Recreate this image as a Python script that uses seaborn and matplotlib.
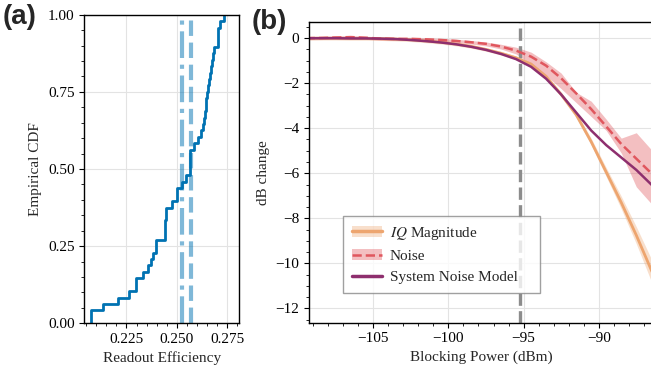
import matplotlib
matplotlib.use("Agg")
import matplotlib.pyplot as plt
from matplotlib.ticker import MultipleLocator
from matplotlib.patches import Patch
from matplotlib.lines import Line2D
import seaborn as sns
import pandas as pd

# (a) readout efficiency samples
efficiency = [
    0.2073, 0.2073, 0.2135, 0.2209, 0.2261, 0.2296, 0.2296, 0.2333, 0.2355,
    0.2371, 0.2383, 0.2395, 0.2395, 0.2440, 0.2440, 0.2440, 0.2448, 0.2448,
    0.2474, 0.2503, 0.2503, 0.2523, 0.2545, 0.2564, 0.2564, 0.2564, 0.2564,
    0.2586, 0.2607, 0.2619, 0.2630, 0.2635, 0.2639, 0.2642, 0.2646, 0.2650,
    0.2655, 0.2660, 0.2665, 0.2670, 0.2674, 0.2678, 0.2682, 0.2704, 0.2704,
    0.2704, 0.2713, 0.2732,
]
eff_mean = 0.2524
eff_median = 0.2571

# (b) blocking power sweep
blocking_power = [
    -109.5, -108.5, -107.5, -106.5, -105.5, -104.5, -103.5, -102.5, -101.5,
    -100.5, -99.5, -98.5, -97.5, -96.5, -95.5, -94.5, -93.5, -92.5, -91.5,
    -90.5, -89.5, -88.5, -87.5, -86.5, -85.5,
]
iq_mag = [
    0.0, 0.0, 0.0, -0.01, -0.01, -0.02, -0.04, -0.07, -0.12, -0.18, -0.26,
    -0.36, -0.5, -0.67, -0.87, -1.15, -1.7, -2.5, -3.4, -4.6, -5.95, -7.3,
    -8.75, -10.3, -11.9,
]
iq_spread = [
    0.08, 0.08, 0.08, 0.08, 0.08, 0.08, 0.08, 0.08, 0.08, 0.08, 0.08, 0.08,
    0.08, 0.08, 0.08, 0.08, 0.08, 0.1, 0.12, 0.15, 0.2, 0.28, 0.38, 0.5, 0.6,
]
noise = [
    0.0, 0.01, 0.03, 0.05, 0.02, -0.02, -0.03, -0.03, -0.05, -0.08, -0.12,
    -0.18, -0.25, -0.37, -0.55, -0.82, -1.22, -1.78, -2.45, -3.15, -3.92,
    -4.7, -5.35, -6.0, -6.7,
]
noise_hi = [
    0.07, 0.08, 0.1, 0.12, 0.09, 0.05, 0.04, 0.04, 0.02, -0.01, -0.05, -0.1,
    -0.17, -0.27, -0.4, -0.62, -1.05, -1.55, -2.4, -2.8, -3.6, -4.44, -4.2,
    -4.95, -5.6,
]
noise_lo = [
    -0.07, -0.06, -0.04, -0.02, -0.05, -0.09, -0.1, -0.1, -0.12, -0.15,
    -0.19, -0.26, -0.34, -0.48, -0.7, -1.15, -1.66, -2.24, -2.86, -3.48,
    -4.1, -5.1, -6.6, -7.35, -8.1,
]
noise_model = [
    0.0, 0.0, 0.0, -0.01, -0.01, -0.02, -0.04, -0.08, -0.13, -0.19, -0.27,
    -0.38, -0.52, -0.7, -0.93, -1.27, -1.8, -2.5, -3.3, -4.1, -4.75, -5.3,
    -5.85, -6.5, -7.1,
]
marker_power = -95.27

ORANGE = "#EDA56F"
RED = "#E0575E"
PURPLE = "#8E2F6E"
BLUE = "#0072B2"


def main():
    sns.set_style("ticks")
    plt.rcParams.update({
        "font.family": "serif",
        "font.serif": ["Liberation Serif", "DejaVu Serif"],
        "mathtext.fontset": "stix",
        "font.size": 11,
        "axes.labelsize": 11,
        "xtick.labelsize": 11,
        "ytick.labelsize": 11,
        "legend.fontsize": 11,
        "axes.edgecolor": "black",
        "axes.linewidth": 1.0,
        "xtick.color": "black",
        "ytick.color": "black",
        "xtick.direction": "out",
        "ytick.direction": "out",
        "grid.color": "#e3e3e3",
        "grid.linewidth": 0.8,
    })

    fig = plt.figure(figsize=(6.51, 3.75), dpi=100)
    ax1 = fig.add_axes([84.3 / 651, 1 - 323.3 / 375, (239 - 84.3) / 651, (323.3 - 14.7) / 375])
    ax2 = fig.add_axes([309 / 651, 1 - 322.7 / 375, (654 - 309) / 651, (322.7 - 22) / 375])

    # ---- (a) empirical CDF
    ax1.grid(True, which="major")
    ax1.axvline(eff_mean, color=BLUE, alpha=0.5, lw=3, ls="-.")
    ax1.axvline(eff_median, color=BLUE, alpha=0.5, lw=3, ls="--")
    sns.ecdfplot(x=efficiency, ax=ax1, color=BLUE, lw=2)
    ax1.set_xlim(0.2041, 0.2808)
    ax1.set_ylim(0, 1)
    ax1.xaxis.set_major_locator(MultipleLocator(0.025))
    ax1.xaxis.set_minor_locator(MultipleLocator(0.005))
    ax1.yaxis.set_major_locator(MultipleLocator(0.25))
    ax1.yaxis.set_minor_locator(MultipleLocator(0.05))
    ax1.set_xlabel("Readout Efficiency")
    ax1.set_ylabel("Empirical CDF")
    ax1.set_axisbelow(True)

    # ---- (b) dB change vs blocking power
    df = pd.DataFrame({
        "power": blocking_power,
        "iq": iq_mag,
        "noise": noise,
        "model": noise_model,
    })
    iq_lo = [m - s for m, s in zip(iq_mag, iq_spread)]
    iq_hi = [m + s for m, s in zip(iq_mag, iq_spread)]

    ax2.grid(True, which="major")
    ax2.set_axisbelow(True)
    ax2.axvline(marker_power, color="#8c8c8c", lw=2.4, ls="--", zorder=1.5)
    ax2.fill_between(blocking_power, iq_lo, iq_hi, color=ORANGE, alpha=0.35, lw=0)
    sns.lineplot(data=df, x="power", y="iq", ax=ax2, color=ORANGE, lw=2)
    ax2.fill_between(blocking_power, noise_lo, noise_hi, color=RED, alpha=0.38, lw=0)
    sns.lineplot(data=df, x="power", y="noise", ax=ax2, color=RED, lw=1.8, ls="--")
    sns.lineplot(data=df, x="power", y="model", ax=ax2, color=PURPLE, lw=1.8)

    ax2.set_xlim(-109.28, -86.32)
    ax2.set_ylim(-12.64, 0.72)
    ax2.xaxis.set_major_locator(MultipleLocator(5))
    ax2.xaxis.set_minor_locator(MultipleLocator(1))
    ax2.yaxis.set_major_locator(MultipleLocator(2))
    ax2.yaxis.set_minor_locator(MultipleLocator(0.5))
    ax2.set_xlabel("Blocking Power (dBm)")
    ax2.set_ylabel("dB change")

    handles = [
        (Patch(fc=ORANGE, alpha=0.35, ec="none"), Line2D([], [], color=ORANGE, lw=2.5)),
        (Patch(fc=RED, alpha=0.38, ec="none"), Line2D([], [], color=RED, lw=1.8, ls="--")),
        Line2D([], [], color=PURPLE, lw=2.5),
    ]
    labels = ["$IQ$ Magnitude", "Noise", "System Noise Model"]
    leg = ax2.legend(handles, labels, loc="lower left",
                     bbox_to_anchor=(0.0994, 0.0998, 0.570, 0.1), mode="expand",
                     borderaxespad=0, borderpad=0.55, handletextpad=0.5,
                     fancybox=False, edgecolor="#888888", framealpha=0.8)
    leg.get_frame().set_linewidth(1.0)

    fig.text(3 / 651, 1 - 17 / 375, "(a)", family="Liberation Sans", weight="bold",
             fontsize=20, va="center", ha="left")
    fig.text(252 / 651, 1 - 22 / 375, "(b)", family="Liberation Sans", weight="bold",
             fontsize=20, va="center", ha="left")

    fig.savefig("out.png", dpi=100)
    plt.close(fig)


if __name__ == "__main__":
    main()
